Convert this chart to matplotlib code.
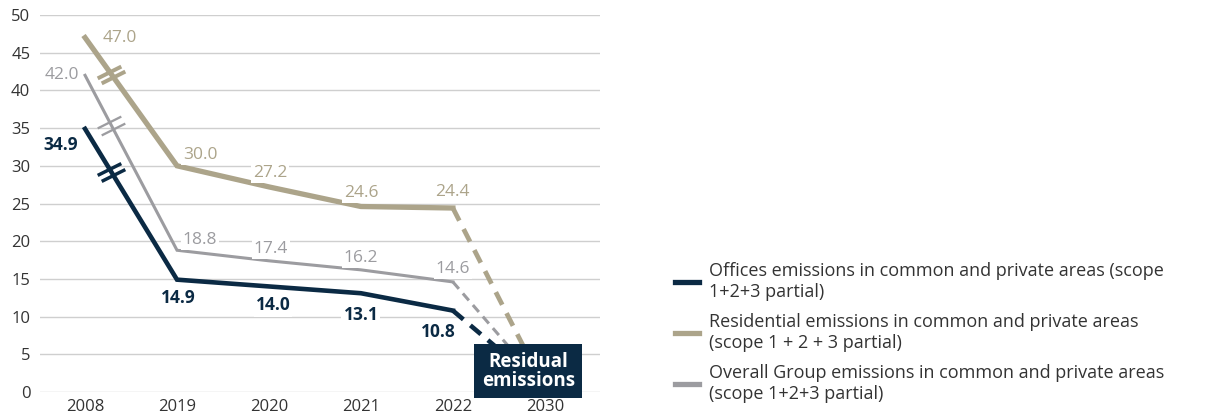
import matplotlib
matplotlib.use("Agg")
import matplotlib.pyplot as plt
from matplotlib.lines import Line2D
from matplotlib.markers import MarkerStyle
from matplotlib.path import Path

plt.rcParams["font.family"] = ["Open Sans", "DejaVu Sans"]

years = ["2008", "2019", "2020", "2021", "2022", "2030"]
offices = [34.9, 14.9, 14.0, 13.1, 10.8]
residential = [47.0, 30.0, 27.2, 24.6, 24.4]
overall = [42.0, 18.8, 17.4, 16.2, 14.6]
residual_2030 = [0.5, 0.5, 0.5]  # offices, residential, overall

legend_labels = [
    "Offices emissions in common and private areas (scope\n1+2+3 partial)",
    "Residential emissions in common and private areas\n(scope 1 + 2 + 3 partial)",
    "Overall Group emissions in common and private areas\n(scope 1+2+3 partial)",
]

NAVY = "#0b2a44"
TAN = "#aca48a"
GRAY = "#9c9ca0"
GRID = "#cfcfcf"
TICK = "#333333"

# label offsets in pixels (dx, dy) from each data point
res_off = [(35, 0), (23, 11), (1, 14), (0, 14), (0, 16)]
ovr_off = [(-23, 0), (23, 10), (2, 12), (0, 12), (0, 13)]
off_off = [(-24, -16), (1, -18), (4, -19), (0, -22), (-15, -21)]

fig = plt.figure(figsize=(12.13, 4.2), dpi=100)
ax = fig.add_axes([40 / 1213, 1 - 392 / 420, 560 / 1213, 377 / 420])

x = list(range(len(years)))
xs = x[:5]

# slanted stroke used (twice) as an axis-break mark on the 2008-2019 drop
stroke = MarkerStyle(Path([(-1.0, -0.5), (1.0, 0.5)]))


def draw_series(vals, end_val, color, lw, dash_lw, offsets, weight, z):
    ax.plot(xs, vals, color=color, lw=lw, solid_joinstyle="miter", zorder=z, clip_on=False)
    ax.plot([xs[-1], x[-1]], [vals[-1], end_val], color=color, lw=dash_lw,
            ls=(0, (3, 2)), zorder=z, clip_on=False)
    for f in (0.265, 0.305):
        bx = xs[0] + f * (xs[1] - xs[0])
        by = vals[0] + f * (vals[1] - vals[0])
        ax.plot([bx], [by], marker=stroke, markersize=17, mew=lw * 0.75,
                color=color, zorder=z + 0.1)
    for xi, v, (dx, dy) in zip(xs, vals, offsets):
        ax.annotate(f"{v:.1f}", (xi, v), xytext=(dx, dy), textcoords="offset pixels",
                    ha="center", va="center", fontsize=12.5, color=color,
                    fontweight=weight, zorder=6,
                    bbox=dict(boxstyle="square,pad=0.12", fc="white", ec="none"))


draw_series(residential, residual_2030[1], TAN, 3.8, 3.4, res_off, "normal", 3)
draw_series(overall, residual_2030[2], GRAY, 2.2, 2.2, ovr_off, "normal", 3.5)
draw_series(offices, residual_2030[0], NAVY, 3.3, 3.3, off_off, "bold", 4)

ax.text(4.82, 2.75, "Residual\nemissions", ha="center", va="center", color="white",
        fontsize=13.5, fontweight="bold", linespacing=0.95, zorder=8,
        bbox=dict(boxstyle="square,pad=0.4", fc=NAVY, ec="none"))

ax.set_xlim(-0.49, 5.6)
ax.set_ylim(0, 50)
ax.set_yticks(range(0, 51, 5))
ax.set_xticks(x)
ax.set_xticklabels(years)
ax.grid(axis="y", color=GRID, lw=1)
ax.set_axisbelow(True)
for s in ax.spines.values():
    s.set_visible(False)
ax.tick_params(length=0, labelsize=12, labelcolor=TICK)
ax.tick_params(axis="y", pad=7)
ax.tick_params(axis="x", pad=5)

handles = [Line2D([], [], color=c, lw=3.8) for c in (NAVY, TAN, GRAY)]
fig.legend(handles, legend_labels, loc="upper left", bbox_to_anchor=(668 / 1213, 1 - 255 / 420),
           frameon=False, fontsize=13, handlelength=1.3, handletextpad=0.55,
           labelspacing=0.67, labelcolor="#333333", borderaxespad=0)

fig.savefig("out.png", dpi=100)
